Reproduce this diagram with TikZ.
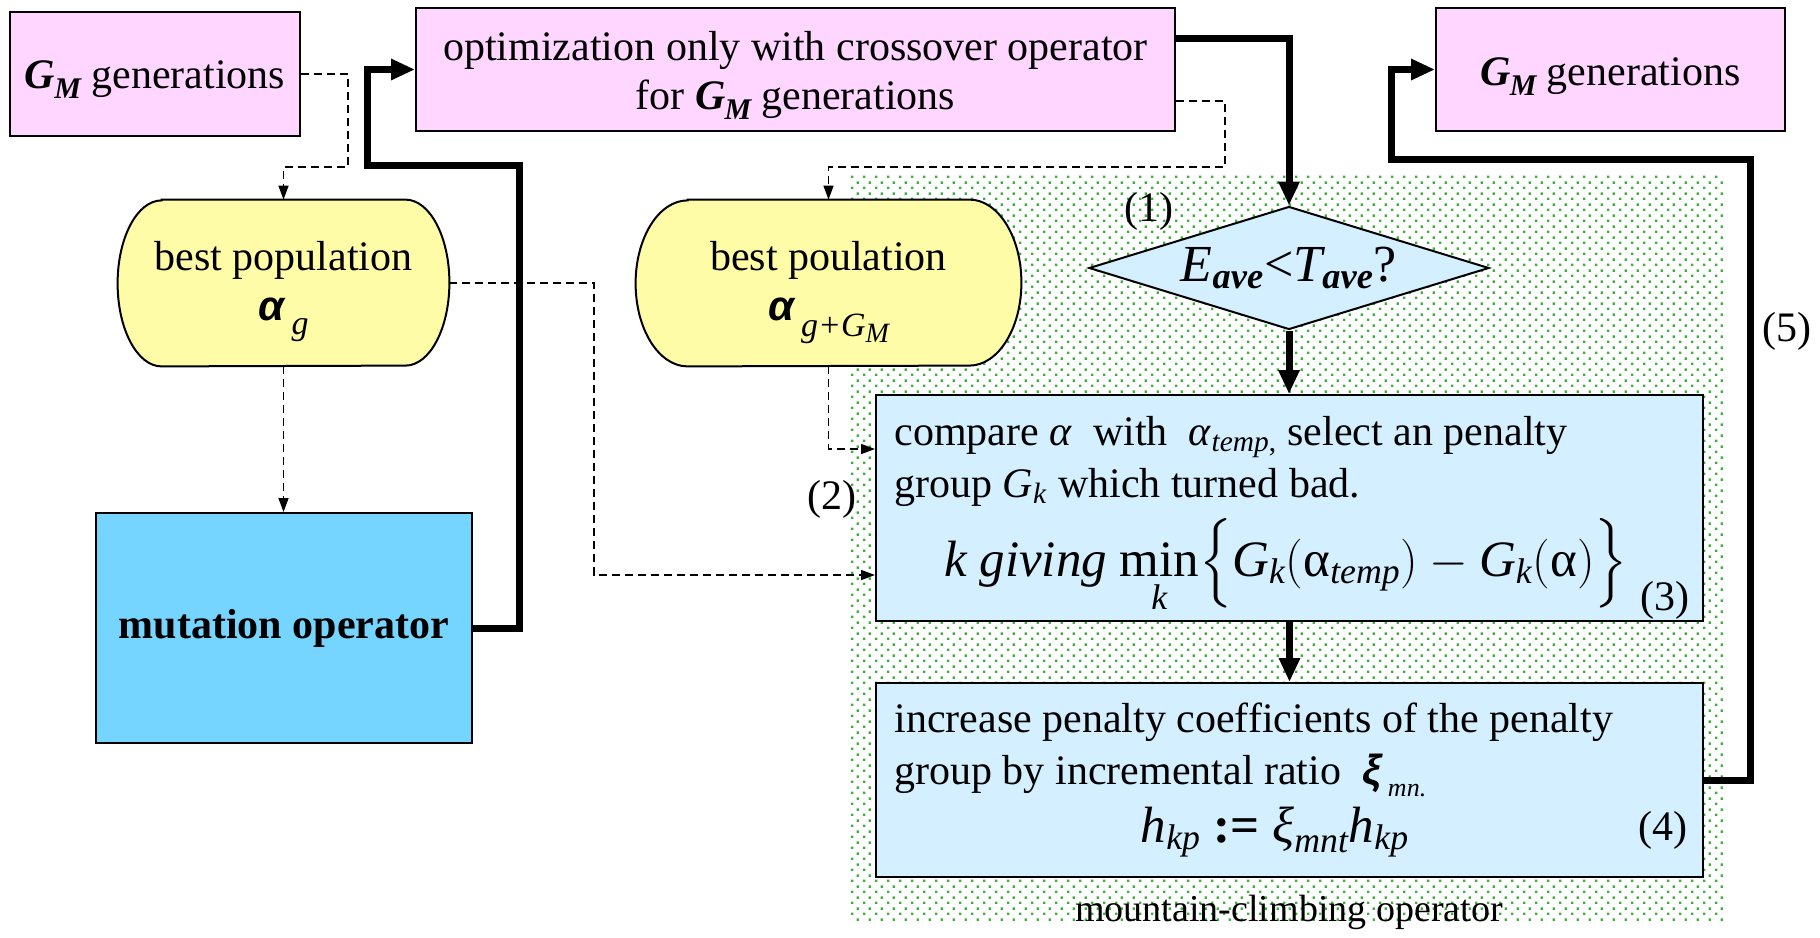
\documentclass[tikz,border=0pt]{standalone}
\usepackage{amsmath}
\usepackage{fontspec}
\setmainfont{Liberation Serif}
\newfontfamily\sansalpha{Liberation Sans}
\usetikzlibrary{arrows.meta,shapes.geometric,patterns.meta}
\definecolor{pinkfill}{RGB}{255,214,255}
\definecolor{yellowfill}{RGB}{255,252,168}
\definecolor{mutfill}{RGB}{117,213,255}
\definecolor{lightblue}{RGB}{212,239,255}
\definecolor{dotgreen}{RGB}{60,175,60}
\pgfdeclarepattern{
  name=mcdots,
  type=uncolored,
  bottom left={\pgfpoint{0pt}{0pt}},
  top right={\pgfpoint{5.75pt}{5.6pt}},
  tile size={\pgfpoint{5.75pt}{5.6pt}},
  code={
    \pgfpathrectangle{\pgfpoint{0pt}{0pt}}{\pgfpoint{1.25pt}{1.25pt}}
    \pgfpathrectangle{\pgfpoint{2.875pt}{2.8pt}}{\pgfpoint{1.25pt}{1.25pt}}
    \pgfusepath{fill}
  }
}
\newcommand\GMsym{{\bfseries\itshape G\kern-0.5pt\raisebox{-5pt}{\fontsize{15}{15}\selectfont M}}}
\newcommand\balpha{{\sansalpha\bfseries\itshape α}}
\begin{document}
\begin{tikzpicture}[x=0.5pt,y=-0.5pt,
  box/.style={draw=black,line width=1pt,inner sep=0pt},
  pinkbox/.style={box,fill=pinkfill,font=\fontsize{21}{24.5}\selectfont,align=center},
  thk/.style={line width=3.5pt,line join=miter,-{Triangle[length=12pt,width=10pt]}},
  dsh/.style={line width=0.75pt,dash pattern=on 4pt off 2.5pt,-{Triangle[length=7pt,width=5pt]}},
  txt/.style={font=\fontsize{21}{25}\selectfont,inner sep=0pt},
  big/.style={font=\fontsize{25.5}{30}\selectfont,inner sep=0pt},
  stadium/.style={line width=1pt,fill=yellowfill}
  ]
\useasboundingbox (0,0) rectangle (1820,937);

% mountain-climbing region
\path[pattern=mcdots,pattern color=dotgreen] (847,174) rectangle (1726,922);

% top boxes
\node[pinkbox,minimum width=145pt,minimum height=62pt,text height=19pt,text depth=5pt] (gm1) at (155,74) {\GMsym\ generations};
\node[pinkbox,minimum width=379.5pt,minimum height=61.5pt,text height=44.5pt,text depth=5pt] (opt) at (795.5,69.5) {optimization only with crossover operator\\for \GMsym\ generations};
\node[pinkbox,minimum width=174.5pt,minimum height=61.5pt,text height=20pt,text depth=4.5pt] (gm2) at (1610.5,69.5) {\GMsym\ generations};

% best population (stadium shapes)
\node[inner sep=0pt,minimum width=165.5pt,minimum height=83pt] (bp1) at (283.5,283) {};
\draw[stadium] ([xshift=22pt]bp1.north west) -- ([xshift=-22pt]bp1.north east)
  arc[start angle=90,end angle=-90,x radius=22pt,y radius=41.5pt]
  -- ([xshift=22pt]bp1.south west)
  arc[start angle=270,end angle=90,x radius=22pt,y radius=41.5pt] -- cycle;
\node[txt,align=center,text height=45pt,text depth=8pt] (bp1t) at (283.5,283) {best population\\\balpha\,\raisebox{-7pt}{\fontsize{17}{17}\selectfont\itshape g}};

\node[inner sep=0pt,minimum width=192.5pt,minimum height=83pt] (bp2) at (828.5,283) {};
\draw[stadium] ([xshift=26pt]bp2.north west) -- ([xshift=-26pt]bp2.north east)
  arc[start angle=90,end angle=-90,x radius=26pt,y radius=41.5pt]
  -- ([xshift=26pt]bp2.south west)
  arc[start angle=270,end angle=90,x radius=26pt,y radius=41.5pt] -- cycle;
\node[txt,align=center,text height=45pt,text depth=8pt] (bp2t) at (828.5,283) {best poulation\\\balpha\,\raisebox{-8pt}{\fontsize{17}{17}\selectfont\itshape g+G\raisebox{-3pt}{\fontsize{14}{14}\selectfont M}}};

% mutation operator
\node[box,fill=mutfill,minimum width=188pt,minimum height=115pt,font=\fontsize{21}{25}\selectfont\bfseries] (mut) at (284,628) {mutation operator};

% decision diamond
\node[diamond,draw,line width=1pt,fill=lightblue,minimum width=200pt,minimum height=61.5pt,inner sep=0pt,aspect=3.25,font=\fontsize{26}{30}\selectfont] (dia) at (1289,268)
  {$\textit{E}_{\textbf{\textit{ave}}}\text{<}\textit{T}_{\textbf{\textit{ave}}}\text{?}$};

% compare box
\node[box,fill=lightblue,minimum width=413.5pt,minimum height=113pt] (cmp) at (1289.5,508) {};
\node[txt,anchor=base west] (cmp1) at (894,445) {compare \textit{α}\ \ with\ \ \textit{α}\smash{\textsubscript{\textit{temp},}} select an penalty};
\node[txt,anchor=base west] (cmp2) at (894,497) {group \textit{G}\smash{\textsubscript{\textit{k}}} which turned bad.};
\node[big,anchor=base] (cmpf) at (1286,576) {\textit{k giving} $\mathop{\text{min}}\limits_{\textit{k}}\Bigl\{\textit{G}_{\textit{k}}(\text{α}_{\textit{temp}})-\textit{G}_{\textit{k}}(\text{α})\Bigr\}$};

% increase box
\node[box,fill=lightblue,minimum width=413.5pt,minimum height=97pt] (inc) at (1289.5,780) {};
\node[txt,anchor=base west] (inc1) at (894,732) {increase penalty coefficients of the penalty};
\node[txt,anchor=base west] (inc2) at (894,784) {group by incremental ratio \ {\sansalpha\bfseries\itshape ξ}\,\smash{\raisebox{-6pt}{\fontsize{13}{13}\selectfont\itshape mn.}}};
\node[big,anchor=base] (incf) at (1275,842) {$\textit{h}_{\textit{kp}}\ \textbf{:=}\ \textit{ξ}_{\textit{mnt}}\textit{h}_{\textit{kp}}$};

% labels
\node[txt] (l1) at (1149,211) {(1)};
\node[txt] (l2) at (832,499) {(2)};
\node[txt] (l3) at (1665,600) {(3)};
\node[txt] (l4) at (1663,830) {(4)};
\node[txt] (l5) at (1787,331) {(5)};
\node[font=\fontsize{19}{22}\selectfont,inner sep=0pt] (mco) at (1289,912) {mountain-climbing operator};

% helper coordinates
\coordinate (yA) at (0,38);
\coordinate (yB) at (0,101);
\coordinate (yC) at (0,449);
\coordinate (k1) at (519,165);
\coordinate (k2) at (367,69.5);
\coordinate (k3) at (1750,159);
\coordinate (k4) at (1391,69.5);
\coordinate (k5) at (348,167);
\coordinate (k6) at (1225,167);
\coordinate (k7) at (594,575);

% thick flow
\draw[thk] (mut.east) -| (k1) -| (k2) -- (opt.west);
\draw[thk] (opt.east |- yA) -| (dia.north);
\draw[thk] (dia.south) -- (cmp.north -| dia.south);
\draw[thk] (cmp.south) -- (inc.north);
\draw[thk] (inc.east) -| (k3) -| (k4) -- (gm2.west);

% dashed data flow
\draw[dsh] (gm1.east) -| (k5) -| (bp1.north);
\draw[dsh] (opt.east |- yB) -| (k6) -| (bp2.north);
\draw[dsh] (bp1.east) -| (k7) -- (cmp.west |- k7);
\draw[dsh] (bp2.south) |- (cmp.west |- yC);
\draw[dsh] (bp1.south) -- (mut.north -| bp1.south);
\end{tikzpicture}
\end{document}
